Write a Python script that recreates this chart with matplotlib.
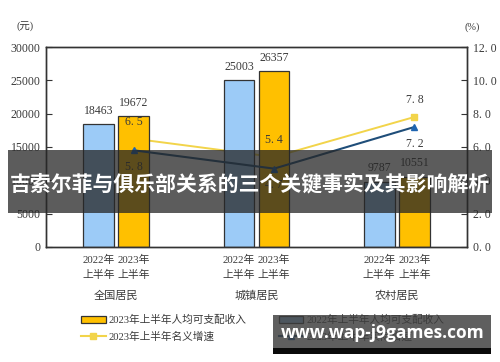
import matplotlib
matplotlib.use("Agg")
import matplotlib.pyplot as plt
from matplotlib.patches import Rectangle
from matplotlib.lines import Line2D
from matplotlib.patches import Patch
import numpy as np

groups = ["全国居民", "城镇居民", "农村居民"]
income_2022 = [18463, 25003, 9787]
income_2023 = [19672, 26357, 10551]
nominal_growth = [6.5, 5.4, 7.8]
real_growth = [5.8, 4.7, 7.2]
period_labels = ["2022年\n上半年", "2023年\n上半年"]
left_ticks = [0, 5000, 10000, 15000, 20000, 25000, 30000]
right_ticks = [0, 2, 4, 6, 8, 10, 12]
right_tick_labels = ["0. 0", "2. 0", "4. 0", "6. 0", "8. 0", "10. 0", "12. 0"]
legend_labels = ["2023年上半年人均可支配收入", "2023年上半年名义增速",
                 "2022年上半年人均可支配收入", "2023年上半年实际增速"]
banner_text = "吉索尔菲与俱乐部关系的三个关键事实及其影响解析"
site_text = "www.wap-j9games.com"

FONT = ["Liberation Serif", "Noto Sans CJK SC"]
plt.rcParams["font.family"] = FONT
TXT = "#3a3a3a"
BLUE_BAR = "#9ccbf7"
ORANGE_BAR = "#ffc000"
YELLOW_LINE = "#f2d44a"
BLUE_LINE = "#1f4e79"

fig = plt.figure(figsize=(5, 3.62), dpi=100)
ax = fig.add_axes([0.092, 0.318, 0.842, 0.552])
ax2 = ax.twinx()

x = np.arange(len(groups))
off = 0.125
w = 0.22
ax.set_xlim(-0.5, 2.5)
ax.set_ylim(0, 30000)
ax2.set_ylim(0, 12)

ax.bar(x - off, income_2022, width=w, color=BLUE_BAR, edgecolor="#333333", linewidth=0.9, zorder=2)
ax.bar(x + off, income_2023, width=w, color=ORANGE_BAR, edgecolor="#333333", linewidth=0.9, zorder=2)
for xi, v in zip(x - off, income_2022):
    ax.text(xi, v + 1100, str(v), ha="center", va="bottom", fontsize=8.5, color=TXT)
for xi, v in zip(x + off, income_2023):
    ax.text(xi, v + 1100, str(v), ha="center", va="bottom", fontsize=8.5, color=TXT)

ax.set_yticks(left_ticks)
ax.set_yticklabels([str(t) for t in left_ticks], fontsize=8.5, color=TXT)
ax2.set_yticks(right_ticks)
ax2.set_yticklabels(right_tick_labels, fontsize=8.5, color=TXT)
ax.tick_params(axis="y", direction="in", length=4, color="#333333", pad=4)
ax2.tick_params(axis="y", direction="in", length=4, color="#333333", pad=4)

ax.set_xticks(list(x - off) + list(x + off))
ax.set_xticklabels([period_labels[0]] * 3 + [period_labels[1]] * 3, fontsize=7.8, color=TXT, linespacing=1.5)
ax.tick_params(axis="x", length=0, pad=6)
for xi, g in zip(x, groups):
    ax.text(xi, -0.245, g, transform=ax.get_xaxis_transform(), ha="center", va="center", fontsize=8, color=TXT)

for s in ax.spines.values():
    s.set_color("#333333"); s.set_linewidth(1.0)
for s in ax2.spines.values():
    s.set_color("#333333"); s.set_linewidth(1.0)

xl = x + off
# yellow line drawn beneath bars, blue line above
ax.plot(xl, nominal_growth, transform=ax2.transData, color=YELLOW_LINE, lw=1.4, marker="s", ms=5,
        mfc=YELLOW_LINE, mec=YELLOW_LINE, zorder=1)
ax2.plot(xl, real_growth, color=BLUE_LINE, lw=1.5, marker="^", ms=5, mfc="#1e64b0", mec="#1e64b0", zorder=3)
for xi, v in zip(xl, nominal_growth):
    ax2.text(xi, v + 1.0, f"{v:.1f}".replace(".", ". "), ha="center", va="center", fontsize=8.5, color=TXT)
for xi, v in zip(xl, real_growth):
    ax2.text(xi, v - 1.0, f"{v:.1f}".replace(".", ". "), ha="center", va="center", fontsize=8.5, color=TXT)

fig.text(0.05, 0.925, "(元)", ha="center", va="center", fontsize=7.5, color=TXT)
fig.text(0.945, 0.925, "(%)", ha="center", va="center", fontsize=7.5, color=TXT)

handles = [Patch(facecolor=ORANGE_BAR, edgecolor="#333333", linewidth=0.9),
           Line2D([], [], color=YELLOW_LINE, lw=1.5, marker="s", ms=5, mfc=YELLOW_LINE, mec=YELLOW_LINE),
           Patch(facecolor=BLUE_BAR, edgecolor="#333333", linewidth=0.9),
           Line2D([], [], color=BLUE_LINE, lw=1.5, marker="^", ms=5, mfc="#1e64b0", mec="#1e64b0")]
leg = fig.legend(handles, legend_labels, ncol=2, loc="upper left", bbox_to_anchor=(0.162, 0.13),
                 frameon=False, fontsize=7.7, handlelength=2.3, handletextpad=0.3,
                 columnspacing=3.0, labelspacing=0.55, borderaxespad=0, borderpad=0)
for t in leg.get_texts():
    t.set_color(TXT)

# overlay banner
fig.patches.append(Rectangle((8 / 500, 1 - 213 / 362), 484 / 500, 63 / 362, transform=fig.transFigure,
                             facecolor="#262626", alpha=0.75, edgecolor="none", zorder=10))
fig.text(0.5, 1 - 184 / 362, banner_text, ha="center", va="center", fontsize=15, fontweight="bold",
         color="white", family=["Noto Sans CJK SC"], zorder=11)
# bottom site watermark
fig.patches.append(Rectangle((273 / 500, 1 - 348 / 362), 218 / 500, 33 / 362, transform=fig.transFigure,
                             facecolor="#3c3c3c", alpha=0.82, edgecolor="none", zorder=10))
fig.patches.append(Rectangle((273 / 500, 1 - 354 / 362), 218 / 500, 6 / 362, transform=fig.transFigure,
                             facecolor="#0a0a0a", edgecolor="none", zorder=10))
fig.text(383 / 500, 1 - 333 / 362, site_text, ha="center", va="center", fontsize=12.5, fontweight="bold",
         color="white", family=["Open Sans", "DejaVu Sans"], zorder=11)

fig.savefig("out.png", dpi=100)
